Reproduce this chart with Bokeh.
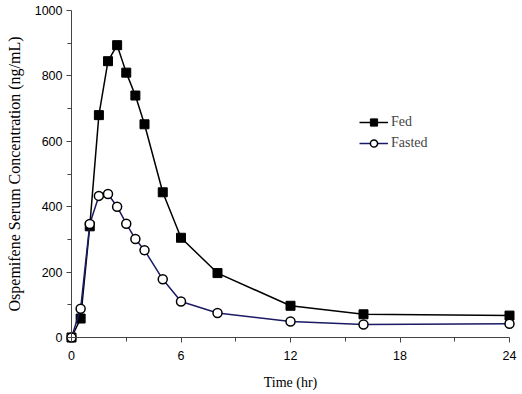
from bokeh.plotting import figure
from bokeh.models import Range1d, FixedTicker, Legend, LegendItem
from bokeh.embed import file_html
from bokeh.resources import INLINE

time_hr = [0, 0.5, 1, 1.5, 2, 2.5, 3, 3.5, 4, 5, 6, 8, 12, 16, 24]
fed = [0, 58, 340, 680, 845, 894, 810, 740, 652, 444, 305, 197, 97, 71, 67]
fasted = [0, 88, 347, 433, 439, 400, 348, 301, 267, 178, 110, 75, 49, 40, 42]
x_ticks = [0, 6, 12, 18, 24]
x_minor = [3, 9, 15, 21]
y_ticks = [0, 200, 400, 600, 800, 1000]
y_minor = [100, 300, 500, 700, 900]

W, H = 520, 392
px_per_hr = (509 - 71) / 24.0
px_per_unit = (337 - 10) / 1000.0

p = figure(width=W, height=H, output_backend="svg", toolbar_location=None,
           x_range=Range1d(-71 / px_per_hr, 24 + (W - 509) / px_per_hr),
           y_range=Range1d(-(H - 337) / px_per_unit, 1000 + 10 / px_per_unit),
           min_border=0)
p.outline_line_color = None
p.grid.visible = False
p.background_fill_color = "white"

fed_line = p.line(time_hr, fed, line_color="black", line_width=1.5)
fed_pts = p.scatter(time_hr, fed, marker="square", size=9, fill_color="black", line_color="black")
fas_line = p.line(time_hr, fasted, line_color="#1a1a66", line_width=1.5)
fas_pts = p.scatter(time_hr, fasted, marker="circle", size=9, fill_color="white", line_color="black", line_width=1.5)

for ax in (p.xaxis[0], p.yaxis[0]):
    ax.fixed_location = 0
    ax.major_tick_in = 0
    ax.minor_tick_in = 0
    ax.major_tick_out = 5
    ax.minor_tick_out = 4
    ax.axis_line_color = "#444444"
    ax.major_tick_line_color = "#444444"
    ax.minor_tick_line_color = "#444444"
    ax.major_label_text_font = "Liberation Sans"
    ax.major_label_text_font_size = "12.5px"
    ax.major_label_text_color = "black"
    ax.axis_label_text_font = "Liberation Serif"
    ax.axis_label_text_font_size = "14px"
    ax.axis_label_text_font_style = "normal"
    ax.axis_label_text_color = "black"

p.yaxis.axis_label_text_font_size = "16px"
p.xaxis.ticker = FixedTicker(ticks=x_ticks, minor_ticks=x_minor)
p.yaxis.ticker = FixedTicker(ticks=y_ticks, minor_ticks=y_minor)
p.xaxis.bounds = (0, 24)
p.yaxis.bounds = (0, 1000)
p.xaxis.axis_label = "Time (hr)"
p.yaxis.axis_label = "Ospemifene Serum Concentration (ng/mL)"
p.xaxis.major_label_standoff = 8
p.xaxis.axis_label_standoff = 12
p.yaxis.major_label_standoff = 4
p.yaxis.axis_label_standoff = 9

legend = Legend(items=[LegendItem(label="Fed", renderers=[fed_line, fed_pts]),
                       LegendItem(label="Fasted", renderers=[fas_line, fas_pts])],
                location=(359, H - 152))
legend.border_line_color = None
legend.background_fill_alpha = 0
legend.padding = 0
legend.margin = 0
legend.spacing = 3
legend.glyph_width = 29
legend.glyph_height = 18
legend.label_height = 18
legend.label_standoff = 3
legend.label_text_font = "Liberation Serif"
legend.label_text_font_size = "14px"
p.add_layout(legend, "center")

open("out.html", "w").write(file_html(p, INLINE))
